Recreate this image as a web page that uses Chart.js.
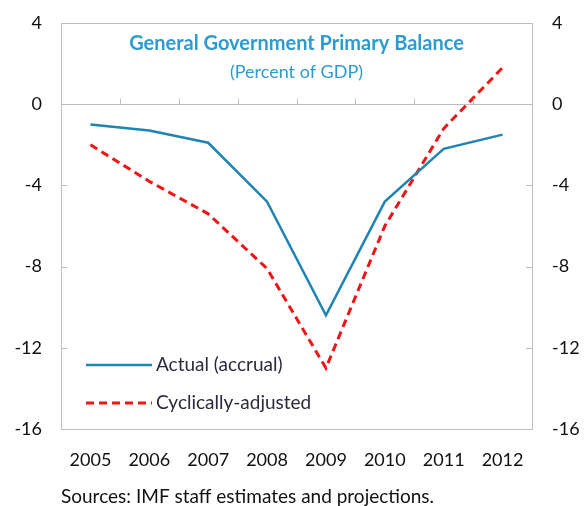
<!DOCTYPE html>
<html>
<head>
<meta charset="utf-8">
<script src="https://cdn.jsdelivr.net/npm/chart.js@4"></script>
<style>
  html, body { margin: 0; padding: 0; background: #fff; }
  #wrap { width: 584px; height: 506px; }
</style>
</head>
<body>
<div id="wrap"><canvas id="balanceChart" width="584" height="506"></canvas></div>
<script>
// data
const years = ['2005', '2006', '2007', '2008', '2009', '2010', '2011', '2012'];
const actual = [-1.0, -1.3, -1.9, -4.8, -10.4, -4.8, -2.2, -1.5];
const cyclicallyAdjusted = [-2.0, -3.8, -5.4, -8.1, -13.0, -6.0, -1.2, 1.8];
const yTicks = [4, 0, -4, -8, -12, -16];

const FONT = 'Lato, "Open Sans", sans-serif';
const BORDER = '#bdbdbd';

// frame, inner tick marks, title, legend and source note
const decorations = {
    id: 'decorations',
    afterDraw(chart) {
        const ctx = chart.ctx;
        const area = chart.chartArea;
        const x = chart.scales.x;
        const y = chart.scales.y;
        ctx.save();
        ctx.strokeStyle = BORDER;
        ctx.lineWidth = 1;
        ctx.strokeRect(area.left + 0.5, area.top + 0.5, area.right - area.left, area.bottom - area.top);

        // y tick marks inside the frame, both sides
        ctx.beginPath();
        yTicks.forEach(v => {
            const py = Math.round(y.getPixelForValue(v)) + 0.5;
            ctx.moveTo(area.left, py); ctx.lineTo(area.left + 6, py);
            ctx.moveTo(area.right - 6, py); ctx.lineTo(area.right, py);
        });
        // category boundary ticks sitting on the zero line
        const y0 = Math.round(y.getPixelForValue(0)) + 0.5;
        for (let i = 1; i < years.length; i++) {
            const px = Math.round((x.getPixelForValue(i - 1) + x.getPixelForValue(i)) / 2) + 0.5;
            ctx.moveTo(px, y0); ctx.lineTo(px, y0 - 6);
        }
        ctx.stroke();

        // title
        const cx = (area.left + area.right) / 2;
        ctx.fillStyle = '#2e9bd0';
        ctx.textAlign = 'center';
        ctx.textBaseline = 'middle';
        ctx.font = 'bold 20px ' + FONT;
        ctx.fillText('General Government Primary Balance', cx, 44);
        ctx.font = '18px ' + FONT;
        ctx.fillText('(Percent of GDP)', cx, 72);

        // legend
        const items = chart.data.datasets;
        ctx.textAlign = 'left';
        ctx.font = '19px ' + FONT;
        items.forEach((ds, i) => {
            const ly = 365 + i * 38;
            ctx.beginPath();
            ctx.strokeStyle = ds.borderColor;
            ctx.lineWidth = ds.borderWidth;
            ctx.setLineDash(ds.borderDash || []);
            ctx.moveTo(86, ly); ctx.lineTo(152, ly);
            ctx.stroke();
            ctx.setLineDash([]);
            ctx.fillStyle = '#2a2a3a';
            ctx.fillText(ds.label, 156, ly);
        });

        // source note
        ctx.fillStyle = '#111';
        ctx.font = '19px ' + FONT;
        ctx.fillText('Sources: IMF staff estimates and projections.', 61, 497);
        ctx.restore();
    }
};

const axisTicks = {
    color: '#111',
    font: { family: FONT, size: 18 },
    stepSize: 4
};

function fixY(width) {
    return function(scale) {
        scale.width = width;
        scale.paddingTop = 0;
        scale.paddingBottom = 0;
    };
}

const ctxBalance = document.getElementById('balanceChart').getContext('2d');
const balanceChart = new Chart(ctxBalance, {
    type: 'line',
    data: {
        labels: years,
        datasets: [{
            label: 'Actual (accrual)',
            data: actual,
            borderColor: '#1f84b4',
            borderWidth: 2.5,
            pointRadius: 0,
            tension: 0,
            fill: false
        }, {
            label: 'Cyclically-adjusted',
            data: cyclicallyAdjusted,
            borderColor: '#f01414',
            borderWidth: 3,
            borderDash: [8, 5],
            pointRadius: 0,
            tension: 0,
            fill: false
        }]
    },
    options: {
        responsive: false,
        animation: false,
        layout: { padding: { top: 23, bottom: 0, left: 0, right: 0 } },
        plugins: {
            legend: { display: false },
            tooltip: { enabled: false }
        },
        scales: {
            x: {
                offset: true,
                grid: { display: false, drawTicks: false },
                border: { display: false },
                ticks: {
                    color: '#111',
                    font: { family: FONT, size: 18 },
                    padding: 20,
                    maxRotation: 0
                },
                afterFit(scale) { scale.height = 77; }
            },
            y: {
                position: 'left',
                min: -16,
                max: 4,
                grid: {
                    drawTicks: false,
                    color: ctx => ctx.tick && ctx.tick.value === 0 ? BORDER : 'rgba(0,0,0,0)'
                },
                border: { display: false },
                ticks: Object.assign({ padding: 19 }, axisTicks),
                afterFit: fixY(61)
            },
            y2: {
                position: 'right',
                min: -16,
                max: 4,
                grid: { display: false, drawTicks: false },
                border: { display: false },
                ticks: Object.assign({ padding: 20 }, axisTicks),
                afterFit: fixY(52)
            }
        }
    },
    plugins: [decorations]
});
</script>
</body>
</html>
